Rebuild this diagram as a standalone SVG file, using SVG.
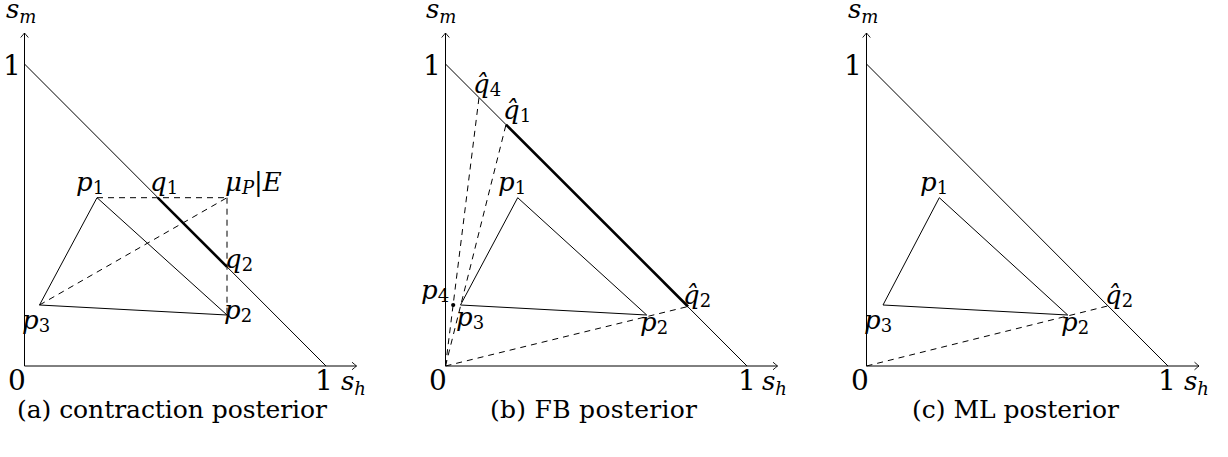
<svg xmlns="http://www.w3.org/2000/svg" width="1228" height="457" viewBox="0 0 1228 457">
<style>
.ax{stroke:#000;stroke-width:1;fill:none}
.ln{stroke:#000;stroke-width:1;fill:none}
.th{stroke:#000;stroke-width:2.6;fill:none}
.da{stroke:#000;stroke-width:1;fill:none;stroke-dasharray:6 5}
text{font-family:'DejaVu Serif',serif;fill:#000}
.m{font-style:italic;font-size:26px}
.n{font-style:normal;font-size:28px}
.s{font-size:18px;font-style:normal}
.si{font-size:18px;font-style:italic}
.cap{font-size:25px;font-style:normal}
</style>
<defs>
<marker id="arr" markerUnits="userSpaceOnUse" markerWidth="12" markerHeight="12" viewBox="-6 -6 12 12" refX="0" refY="0" orient="auto">
<path d="M-4.5,-3.8 Q-1.2,-1 0,0 Q-1.2,1 -4.5,3.8" fill="none" stroke="#000" stroke-width="0.9"/>
</marker>
</defs>

<g id="panel-a">
<g id="a-connectors">
<line class="ax" x1="24.5" y1="366" x2="24.5" y2="33" marker-end="url(#arr)"/>
<line class="ax" x1="24.5" y1="366" x2="356.5" y2="366" marker-end="url(#arr)"/>
<line class="ln" x1="24.5" y1="64" x2="326" y2="366"/>
<polygon class="ln" points="97,197.7 227,315 39.5,305"/>
<line class="da" x1="97" y1="197.7" x2="227" y2="197.7"/>
<line class="da" x1="227" y1="197.7" x2="227" y2="315"/>
<line class="da" x1="39.5" y1="305" x2="227" y2="197.7"/>
<line class="th" x1="157.7" y1="197.7" x2="227" y2="266.8"/>
</g>
<g id="a-labels">
<text class="m" x="6" y="18">s<tspan class="si" dy="5">m</tspan></text>
<text class="n" x="3" y="75">1</text>
<text class="n" x="8" y="390">0</text>
<text class="n" x="315" y="390">1</text>
<text class="m" x="341" y="390">s<tspan class="si" dy="5">h</tspan></text>
<text class="m" x="76" y="190.5">p<tspan class="s" dy="3">1</tspan></text>
<text class="m" x="150" y="190.5">q<tspan class="s" dy="3">1</tspan></text>
<text class="m" x="225" y="190.5">μ<tspan class="si" dy="3">P</tspan><tspan dy="-3">|E</tspan></text>
<text class="m" x="225" y="268">q<tspan class="s" dy="3">2</tspan></text>
<text class="m" x="224" y="319">p<tspan class="s" dy="3">2</tspan></text>
<text class="m" x="22" y="329">p<tspan class="s" dy="3">3</tspan></text>
</g>
<text id="a-caption" class="cap" x="17" y="418" textLength="310">(a) contraction posterior</text>
</g>

<g id="panel-b">
<g id="b-connectors">
<line class="ax" x1="445.5" y1="366" x2="445.5" y2="33" marker-end="url(#arr)"/>
<line class="ax" x1="445.5" y1="366" x2="777.5" y2="366" marker-end="url(#arr)"/>
<line class="ln" x1="445.5" y1="64" x2="747" y2="366"/>
<polygon class="ln" points="517.7,197.7 646.7,315 460.5,305"/>
<line class="da" x1="445.5" y1="366" x2="479" y2="97.6"/>
<line class="da" x1="445.5" y1="366" x2="506" y2="124.6"/>
<line class="da" x1="445.5" y1="366" x2="688" y2="306.5"/>
<line class="th" x1="506" y1="124.6" x2="688" y2="306.5"/>
<circle cx="453.2" cy="305" r="2.1" fill="#000"/>
</g>
<g id="b-labels">
<text class="m" x="426" y="18">s<tspan class="si" dy="5">m</tspan></text>
<text class="n" x="423" y="75">1</text>
<text class="n" x="429" y="390">0</text>
<text class="n" x="738" y="390">1</text>
<text class="m" x="762" y="390">s<tspan class="si" dy="5">h</tspan></text>
<text class="m" x="473" y="93">q̂<tspan class="s" dy="3">4</tspan></text>
<text class="m" x="503" y="119">q̂<tspan class="s" dy="3">1</tspan></text>
<text class="m" x="683" y="304">q̂<tspan class="s" dy="3">2</tspan></text>
<text class="m" x="498" y="190.5">p<tspan class="s" dy="3">1</tspan></text>
<text class="m" x="421" y="299">p<tspan class="s" dy="3">4</tspan></text>
<text class="m" x="456" y="326">p<tspan class="s" dy="3">3</tspan></text>
<text class="m" x="640" y="331">p<tspan class="s" dy="3">2</tspan></text>
</g>
<text id="b-caption" class="cap" x="490" y="418" textLength="207">(b) FB posterior</text>
</g>

<g id="panel-c">
<g id="c-connectors">
<line class="ax" x1="866.5" y1="366" x2="866.5" y2="33" marker-end="url(#arr)"/>
<line class="ax" x1="866.5" y1="366" x2="1199" y2="366" marker-end="url(#arr)"/>
<line class="ln" x1="866.5" y1="64" x2="1168" y2="366"/>
<polygon class="ln" points="939.3,197.7 1067.7,315 883,305"/>
<line class="da" x1="866.5" y1="366" x2="1108" y2="305.9"/>
</g>
<g id="c-labels">
<text class="m" x="848" y="18">s<tspan class="si" dy="5">m</tspan></text>
<text class="n" x="844" y="75">1</text>
<text class="n" x="851" y="390">0</text>
<text class="n" x="1158" y="390">1</text>
<text class="m" x="1184" y="390">s<tspan class="si" dy="5">h</tspan></text>
<text class="m" x="920" y="190.5">p<tspan class="s" dy="3">1</tspan></text>
<text class="m" x="864" y="329">p<tspan class="s" dy="3">3</tspan></text>
<text class="m" x="1061" y="331">p<tspan class="s" dy="3">2</tspan></text>
<text class="m" x="1105" y="304">q̂<tspan class="s" dy="3">2</tspan></text>
</g>
<text id="c-caption" class="cap" x="912" y="418" textLength="207">(c) ML posterior</text>
</g>
</svg>
